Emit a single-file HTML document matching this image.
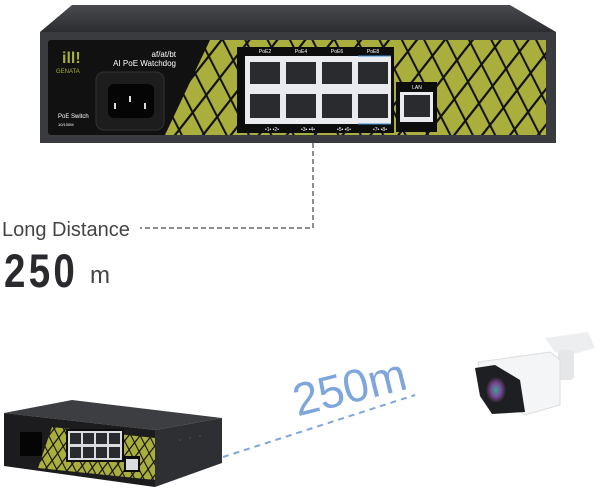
<!DOCTYPE html>
<html><head><meta charset="utf-8"><style>
html,body{margin:0;padding:0;background:#fff;}
svg{display:block;}
</style></head><body>
<svg width="600" height="495" viewBox="0 0 600 495" xmlns="http://www.w3.org/2000/svg" font-family="Liberation Sans, sans-serif">
<defs>
<pattern id="grid" width="22" height="22" patternUnits="userSpaceOnUse" patternTransform="rotate(-52) skewX(-25)">
<rect width="22" height="22" fill="#a9ae3c"/>
<rect width="2.2" height="22" fill="#111"/>
<rect width="22" height="2.2" fill="#111"/>
</pattern>
<pattern id="gridS" width="9" height="9" patternUnits="userSpaceOnUse" patternTransform="rotate(-52) skewX(-25)">
<rect width="9" height="9" fill="#a9ae3c"/>
<rect width="1.2" height="9" fill="#111"/>
<rect width="9" height="1.2" fill="#111"/>
</pattern>
<linearGradient id="lid" x1="0" y1="0" x2="0" y2="1"><stop offset="0" stop-color="#4a4b4f"/><stop offset="1" stop-color="#2c2d30"/></linearGradient>
<radialGradient id="lens"><stop offset="0" stop-color="#3a8"/><stop offset="0.5" stop-color="#7a4a9a"/><stop offset="1" stop-color="#222"/></radialGradient>
</defs>
<polygon points="72,5 510,5 556,32 40,32" fill="url(#lid)"/>
<rect x="40" y="32" width="516" height="111" fill="#3a3b3e"/>
<rect x="48" y="40" width="498" height="95" rx="3" fill="#111"/>
<polygon points="210,40 546,40 546,135 165,135" fill="url(#grid)"/>
<text x="62" y="63" font-size="16" font-weight="bold" fill="#a6ad3a">ill!</text>
<text x="56" y="73" font-size="6" fill="#a6ad3a">GENATA</text>
<text x="176" y="57" font-size="8" fill="#fff" text-anchor="end">af/at/bt</text>
<text x="176" y="66" font-size="8" fill="#fff" text-anchor="end">AI PoE Watchdog</text>
<text x="58" y="118" font-size="6" fill="#fff">PoE Switch</text>
<text x="58" y="126" font-size="4" fill="#fff">10/100M</text>
<rect x="96" y="72" width="68" height="58" rx="8" fill="#1d1d1d" stroke="#333"/>
<rect x="108" y="84" width="46" height="34" rx="6" fill="#050505"/>
<rect x="114" y="103" width="2" height="6" fill="#ddd"/><rect x="129" y="96" width="2" height="6" fill="#ddd"/><rect x="144" y="103" width="2" height="6" fill="#ddd"/>
<rect x="237" y="47" width="157" height="86" fill="#0d0d0d"/>
<rect x="245" y="56" width="146" height="68" fill="#e9ebee"/>
<g fill="#2a2b2e">
<rect x="250" y="62" width="30" height="22"/><rect x="286" y="62" width="30" height="22"/><rect x="322" y="62" width="30" height="22"/><rect x="358" y="62" width="30" height="22"/>
<rect x="250" y="94" width="30" height="24"/><rect x="286" y="94" width="30" height="24"/><rect x="322" y="94" width="30" height="24"/><rect x="358" y="94" width="30" height="24"/>
</g>
<line x1="358" y1="56" x2="391" y2="56" stroke="#3b8fd8" stroke-width="1"/>
<line x1="358" y1="124" x2="391" y2="124" stroke="#3b8fd8" stroke-width="1"/>
<g font-size="5" fill="#fff" text-anchor="middle"><text x="265" y="53">PoE2</text><text x="301" y="53">PoE4</text><text x="337" y="53">PoE6</text><text x="373" y="53">PoE8</text>
<text x="272" y="131">•1• •2•</text><text x="308" y="131">•3• •4•</text><text x="344" y="131">•5• •6•</text><text x="380" y="131">•7• •8•</text></g>
<rect x="396" y="82" width="41" height="50" fill="#0d0d0d"/>
<rect x="400" y="92" width="33" height="30" fill="#e9ebee"/>
<rect x="404" y="95" width="26" height="22" fill="#2a2b2e"/>
<text x="417" y="89" font-size="5" fill="#fff" text-anchor="middle">LAN</text>
<path d="M313 143 V228 H140" stroke="#444" stroke-width="1.2" stroke-dasharray="5,3" fill="none"/>
<text x="2" y="236" font-size="20" fill="#444">Long Distance</text>
<text x="4" y="287" font-size="47" font-weight="bold" fill="#2a2a2e" letter-spacing="4" transform="translate(4 0) scale(0.82 1) translate(-4 0)">250</text>
<text x="90" y="283" font-size="24" fill="#444">m</text>
<polygon points="4,413 72,400 222,418 155,430" fill="#3d3e42"/>
<polygon points="155,430 222,418 222,463 155,487" fill="#2e2f33"/>
<polygon points="4,413 155,430 155,487 4,466" fill="#1c1c1e"/>
<polygon points="52,427 155,438 155,480 38,468" fill="url(#gridS)"/>
<rect x="66" y="429" width="58" height="33" fill="#0d0d0d"/>
<rect x="68" y="431" width="54" height="29" fill="#d9dbdf"/>
<g fill="#2a2b2e"><rect x="70" y="433" width="11" height="11"/><rect x="83" y="433" width="11" height="11"/><rect x="96" y="433" width="11" height="11"/><rect x="109" y="433" width="11" height="11"/>
<rect x="70" y="447" width="11" height="11"/><rect x="83" y="447" width="11" height="11"/><rect x="96" y="447" width="11" height="11"/><rect x="109" y="447" width="11" height="11"/></g>
<rect x="124" y="456" width="16" height="16" fill="#0d0d0d"/>
<rect x="126" y="459" width="12" height="11" fill="#d9dbdf"/>
<rect x="20" y="432" width="22" height="24" fill="#050505"/>
<g fill="#555"><circle cx="180" cy="440" r="0.8"/><circle cx="190" cy="438" r="0.8"/><circle cx="200" cy="436" r="0.8"/></g>
<line x1="223" y1="457" x2="415" y2="395" stroke="#7ea6dc" stroke-width="2" stroke-dasharray="6,5"/>
<text x="290" y="405" font-size="46" fill="#7ea6dc" transform="rotate(-14 340 380)">250m</text>
<polygon points="545,338 588,332 595,348 570,355 555,352" fill="#eceef0"/>
<rect x="558" y="350" width="16" height="30" rx="4" fill="#e4e6e8"/>
<polygon points="478,362 550,352 560,360 560,405 525,415 482,385" fill="#f4f5f6" stroke="#ddd"/>
<polygon points="475,368 495,365 520,380 525,412 492,414 480,396" fill="#1e1f22"/>
<ellipse cx="496" cy="390" rx="10" ry="13" fill="url(#lens)"/>
</svg>
</body></html>
